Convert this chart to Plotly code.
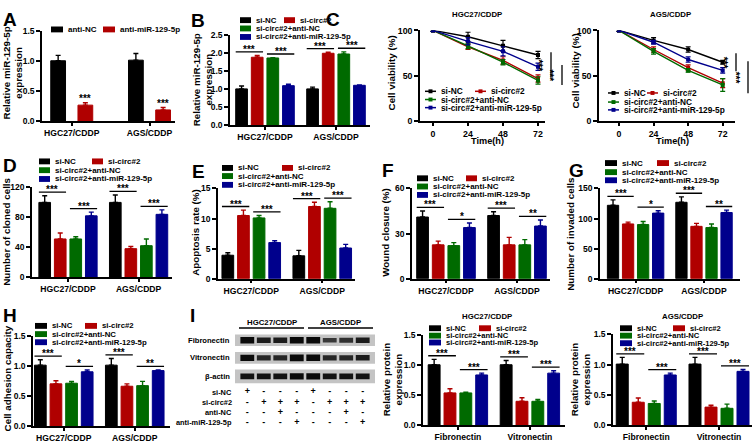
import plotly.graph_objects as go

W, H = 753, 443
FONT = "Liberation Sans, Arial, sans-serif"
COLORS = ["#000000", "#B00000", "#006A00", "#00008C"]

CELLS = ["HGC27/CDDP", "AGS/CDDP"]
PROTEINS = ["Fibronectin", "Vitronectin"]
GROUPS = ["si-NC", "si-circ#2", "si-circ#2+anti-NC", "si-circ#2+anti-miR-129-5p"]

# ---------------------------------------------------------------- data
# rows = series, columns = the two x groups
a_groups = ["anti-NC", "anti-miR-129-5p"]
a_vals = [[1.01, 1.02], [0.27, 0.19]]
a_errs = [[0.09, 0.11], [0.04, 0.04]]

b_vals = [[1.01, 1.01], [1.89, 2.00], [1.87, 1.98], [1.10, 1.11]]
b_errs = [[0.08, 0.05], [0.05, 0.03], [0.01, 0.06], [0.04, 0.01]]

times = [0, 24, 48, 72]
c1_vals = [[100, 93, 83, 73], [100, 82, 67, 47], [100, 83, 65, 45], [100, 88, 77, 60]]
c1_errs = [[1, 5, 6, 4], [1, 3, 4, 4], [1, 3, 3, 4], [1, 4, 5, 4]]
c2_vals = [[100, 89, 79, 65], [100, 79, 59, 42], [100, 77, 56, 40], [100, 87, 68, 56]]
c2_errs = [[1, 3, 3, 2], [1, 3, 3, 5], [1, 3, 2, 7], [1, 2, 3, 3]]
c1_sig = [(76, 48), (62, 40)]
c2_sig = [(75, 55), (66, 31)]

d_vals = [[100, 100], [51, 38], [51, 42], [82, 84]]
d_errs = [[9, 10], [8, 3], [3, 9], [5, 6]]

e_vals = [[3.9, 3.8], [10.5, 12.0], [10.1, 11.7], [6.0, 5.1]]
e_errs = [[0.4, 0.9], [0.9, 0.7], [0.4, 1.1], [0.3, 0.6]]

f_vals = [[41, 42], [22.5, 22.5], [22, 22.5], [34, 35]]
f_errs = [[4, 2.5], [2.5, 5], [2, 3.5], [3, 4]]

g_vals = [[122, 127], [91, 87], [90, 85], [109, 110]]
g_errs = [[9, 9], [3, 5], [5, 6], [4, 4]]

h_vals = [[1.01, 1.01], [0.70, 0.66], [0.71, 0.67], [0.90, 0.92]]
h_errs = [[0.09, 0.11], [0.05, 0.04], [0.03, 0.07], [0.03, 0.01]]

i1_vals = [[1.01, 1.01], [0.54, 0.40], [0.54, 0.40], [0.84, 0.87]]
i1_errs = [[0.09, 0.07], [0.07, 0.06], [0.01, 0.03], [0.03, 0.04]]
i2_vals = [[1.01, 1.01], [0.38, 0.30], [0.36, 0.28], [0.83, 0.89]]
i2_errs = [[0.11, 0.11], [0.07, 0.03], [0.04, 0.07], [0.03, 0.03]]

blot_rows = ["Fibronectin", "Vitronectin", "β-actin"]
fib_int = [0.95, 0.8, 0.8, 0.95, 0.95, 0.65, 0.7, 0.8]
vit_int = [0.9, 0.75, 0.75, 1.0, 0.95, 0.75, 0.75, 0.8]
act_int = [0.85, 0.85, 0.85, 0.9, 0.9, 0.85, 0.85, 0.85]
sign_rows = ["si-NC", "si-circ#2", "anti-NC", "anti-miR-129-5p"]
si_nc = ["+", "-", "-", "-", "+", "-", "-", "-"]
si_circ = ["-", "+", "+", "+", "-", "+", "+", "+"]
anti_nc = ["-", "-", "+", "-", "-", "-", "+", "-"]
anti_mir = ["-", "-", "-", "+", "-", "-", "-", "+"]

# ---------------------------------------------------------------- sizes
TICK = 8.5      # numeric tick labels
CAT = 8.6       # category tick labels
LEG = 8.0       # legend text
TITLE = 9.8     # axis titles
STAR = 10

# ---------------------------------------------------------------- helpers
fig = go.Figure()
axes, shapes, anns = {}, [], []


def fx(x):
    return x / W


def fy(y):
    return 1 - y / H


def bfont(size):
    return dict(family=FONT, size=size, color="black", weight="bold")


def axis(**kw):
    base = dict(showline=True, linecolor="black", linewidth=1.5, ticks="outside",
                tickcolor="black", tickwidth=1.5, ticklen=4, showgrid=False,
                zeroline=False, tickfont=bfont(TICK), fixedrange=True)
    base.update(kw)
    return base


def text(s, x, y, size=10, xa="center", ya="middle", angle=0):
    anns.append(dict(text=s, x=fx(x), y=fy(y), xref="paper", yref="paper",
                     showarrow=False, xanchor=xa, yanchor=ya, textangle=angle,
                     font=bfont(size)))


def legend(labels, colors, spots, sw=11, sh=6, size=LEG, line=False):
    for lab, c, (x, y) in zip(labels, colors, spots):
        if line:
            shapes.append(dict(type="line", xref="paper", yref="paper", x0=fx(x), x1=fx(x + sw),
                               y0=fy(y), y1=fy(y), line=dict(color=c, width=1.5)))
            m = x + sw / 2
            shapes.append(dict(type="rect", xref="paper", yref="paper", x0=fx(m - 2), x1=fx(m + 2),
                               y0=fy(y + 2), y1=fy(y - 2), fillcolor=c, line=dict(width=0)))
        else:
            shapes.append(dict(type="rect", xref="paper", yref="paper", x0=fx(x), x1=fx(x + sw),
                               y0=fy(y + sh / 2), y1=fy(y - sh / 2), fillcolor=c,
                               line=dict(width=0)))
        text(lab, x + sw + 3, y, size=size, xa="left")


def four_spots(xa, xb, ys):
    return [(xa, ys[0]), (xb, ys[0]), (xa, ys[1]), (xa, ys[2])]


def bar_panel(k, box, centers, ymax, dtick, fmt, cats, vals, errs, offsets, width,
              sigs, pad=0.04):
    x0, x1, yt, yb = box
    c0, c1 = centers
    d = c1 - c0
    xa, ya = f"x{k}", f"y{k}"
    for s, (v, e) in enumerate(zip(vals, errs)):
        fig.add_trace(go.Bar(
            x=[g + offsets[s] for g in range(len(v))], y=v, width=width,
            marker=dict(color=COLORS[s], line=dict(color=COLORS[s], width=1)),
            error_y=dict(type="data", array=e, arrayminus=[0] * len(e), symmetric=False,
                         color=COLORS[s], thickness=1.4, width=2.5),
            xaxis=xa, yaxis=ya, showlegend=False, hoverinfo="skip"))
    axes[f"xaxis{k}"] = axis(domain=[fx(x0), fx(x1)], range=[(x0 - c0) / d, 1 + (x1 - c1) / d],
                             anchor=ya, tickvals=[0, 1], ticktext=cats, ticklen=3,
                             tickfont=bfont(CAT))
    axes[f"yaxis{k}"] = axis(domain=[fy(yb), fy(yt)], range=[0, ymax], dtick=dtick,
                             tickformat=fmt, anchor=xa)
    for g, i, j, lab in sigs:
        top = max(vals[i][g] + errs[i][g], vals[j][g] + errs[j][g]) + pad * ymax
        if i == j:
            anns.append(dict(text=lab, x=g + offsets[i], y=top, xref=xa, yref=ya,
                             showarrow=False, yanchor="bottom", yshift=-5, font=bfont(STAR)))
            continue
        s0 = g + offsets[i] - width / 2
        s1 = g + offsets[j] + width / 2
        shapes.append(dict(type="line", xref=xa, yref=ya, x0=s0, x1=s1, y0=top, y1=top,
                           line=dict(color="black", width=1.3)))
        anns.append(dict(text=lab, x=(s0 + s1) / 2, y=top, xref=xa, yref=ya, showarrow=False,
                         yanchor="bottom", yshift=-5, font=bfont(STAR)))


def line_panel(k, box, x_zero, x_72, vals, errs, sig, sig_x, title, title_x):
    x0, x1, yt, yb = box
    ppu = (x_72 - x_zero) / 72
    xa, ya = f"x{k}", f"y{k}"
    for s, (v, e) in enumerate(zip(vals, errs)):
        fig.add_trace(go.Scatter(
            x=times, y=v, mode="lines+markers",
            line=dict(color=COLORS[s], width=1.4),
            marker=dict(symbol="square", size=4, color=COLORS[s]),
            error_y=dict(type="data", array=e, color=COLORS[s], thickness=1.2, width=2.5),
            xaxis=xa, yaxis=ya, showlegend=False, hoverinfo="skip"))
    axes[f"xaxis{k}"] = axis(domain=[fx(x0), fx(x1)],
                             range=[(x0 - x_zero) / ppu, (x1 - x_zero) / ppu],
                             anchor=ya, tickvals=times, ticklen=3, tickfont=bfont(8.8))
    axes[f"yaxis{k}"] = axis(domain=[fy(yb), fy(yt)], range=[0, 100], dtick=50, anchor=xa,
                             tickfont=bfont(8.8))
    for (v0, v1), px in zip(sig, sig_x):
        shapes.append(dict(type="line", xref="paper", yref=ya, x0=fx(px), x1=fx(px),
                           y0=v0, y1=v1, line=dict(color="black", width=1.3)))
        anns.append(dict(text="***", x=fx(px - 5), y=(v0 + v1) / 2, xref="paper", yref=ya,
                         showarrow=False, textangle=90, font=bfont(STAR)))
    text(title, title_x, 10, size=7.8)
    text("Time(h)", (x0 + x1) / 2 + 5, 139.5, size=9.2)


OFF4 = [-0.33, -0.11, 0.11, 0.33]
W4 = 0.165
SIG_ALL = [(0, 0, 1, "***"), (0, 2, 3, "***"), (1, 0, 1, "***"), (1, 2, 3, "***")]
SIG_MIX = [(0, 0, 1, "***"), (0, 2, 3, "*"), (1, 0, 1, "***"), (1, 2, 3, "**")]
YT = "Relative miR-129-5p<br>expression"

# ---------------------------------------------------------------- A
bar_panel(1, (42, 175, 27, 119), (71.75, 149.5), 1.5, 0.5, ".1f", CELLS, a_vals, a_errs,
          [-0.175, 0.175], 0.19, [(0, 1, 1, "***"), (1, 1, 1, "***")], pad=0.02)
legend(a_groups, COLORS[:2], [(51, 25), (103, 25)], sw=12)
text(YT, 13, 70, size=TITLE, angle=-90)

# ---------------------------------------------------------------- B
bar_panel(2, (230, 370, 31, 123), (265, 336), 2.5, 0.5, ".1f", CELLS, b_vals, b_errs,
          OFF4, W4, SIG_ALL, pad=0.04)
legend(GROUPS, COLORS, four_spots(240, 284, [15.5, 24, 32.7]), size=7.8)
text(YT, 203, 77, size=TITLE, angle=-90)

# ---------------------------------------------------------------- C
line_panel(3, (420, 545, 26, 119), 433, 538, c1_vals, c1_errs, c1_sig, [551, 562],
           "HGC27/CDDP", 477)
legend(GROUPS, COLORS, four_spots(425, 475, [88.3, 96.7, 105]), sw=11, size=8.3, line=True)
text("Cell viability (%)", 391, 70, size=TITLE, angle=-90)

line_panel(4, (599, 735, 26, 119), 619, 722.7, c2_vals, c2_errs, c2_sig, [736, 748],
           "AGS/CDDP", 670)
legend(GROUPS, COLORS, four_spots(608, 647, [90, 99.3, 107.3]), sw=11, size=8.3, line=True)
text("Cell viability (%)", 575, 68, size=TITLE, angle=-90)

# ---------------------------------------------------------------- D-G
bar_panel(5, (32, 172, 186.7, 278.3), (68, 138.6), 120, 40, "d", CELLS, d_vals, d_errs,
          OFF4, W4, SIG_ALL)
legend(GROUPS, COLORS, four_spots(39, 92, [160, 169, 178]))
text("Number of cloned cells", 7, 232, size=TITLE, angle=-90)

bar_panel(6, (218, 355, 187.7, 280), (251.25, 322.25), 15, 5, "d", CELLS, e_vals, e_errs,
          OFF4, W4, SIG_ALL)
legend(GROUPS, COLORS, four_spots(222, 282, [166.7, 175, 184]))
text("Apoptosis rate (%)", 196, 233, size=TITLE, angle=-90)

bar_panel(7, (412, 550, 187.7, 280), (446, 517), 60, 30, "d", CELLS, f_vals, f_errs,
          OFF4, W4, SIG_MIX)
legend(GROUPS, COLORS, four_spots(417, 466, [177.3, 185.7, 194.3]))
text("Wound closure (%)", 386, 233, size=TITLE, angle=-90)

bar_panel(8, (600, 740, 187.7, 280), (635.6, 704), 150, 50, "d", CELLS, g_vals, g_errs,
          OFF4, W4, SIG_MIX)
legend(GROUPS, COLORS, four_spots(605, 657, [161.7, 171, 179.3]), sw=12)
text("Number of invaded cells", 571, 234, size=TITLE, angle=-90)

# ---------------------------------------------------------------- H
bar_panel(9, (33, 170, 338.3, 430.7), (63.75, 134.75), 1.5, 0.5, ".1f", CELLS, h_vals, h_errs,
          OFF4, W4, SIG_MIX)
legend(GROUPS, COLORS, four_spots(35, 85, [328.3, 336.7, 345]), sw=12, size=7.8)
text("Cell adhesion capacity", 7, 382, size=TITLE, angle=-90)

# ---------------------------------------------------------------- I blot
lanes = list(range(8))
bx0, bx1 = 235, 375
lane0, lane7 = 247.3, 362.7
lp = (lane7 - lane0) / 7
strips = [(337, 349), (355, 367), (373, 387)]
sign_y = [396, 406.7, 416.7, 427.3]
axes["xaxis10"] = dict(domain=[fx(bx0), fx(bx1)], range=[(bx0 - lane0) / lp, 7 + (bx1 - lane7) / lp],
                       visible=False, fixedrange=True, anchor="y10")
axes["yaxis10"] = dict(domain=[0, fy(300)], range=[443, 300], visible=False, fixedrange=True,
                       anchor="x10")
for (t, b), name, ints in zip(strips, blot_rows, [fib_int, vit_int, act_int]):
    shapes.append(dict(type="rect", xref="paper", yref="paper", x0=fx(bx0), x1=fx(bx1),
                       y0=fy(b), y1=fy(t), fillcolor="#C4C4C4", line=dict(width=0), layer="below"))
    mid = (t + b) / 2
    fig.add_trace(go.Bar(
        x=lanes, y=[7 * v for v in ints], base=[mid - 3.5 * v for v in ints], width=0.84,
        marker=dict(color=[f"rgba(10,10,10,{min(1, v + 0.1):.2f})" for v in ints],
                    line=dict(width=0)),
        xaxis="x10", yaxis="y10", showlegend=False, hoverinfo="skip"))
    text(name, bx0 - 3, mid, size=7.6, xa="right")
for name, signs, y in zip(sign_rows, [si_nc, si_circ, anti_nc, anti_mir], sign_y):
    fig.add_trace(go.Scatter(x=lanes, y=[y] * 8, mode="text", text=signs,
                             textfont=bfont(9), xaxis="x10", yaxis="y10",
                             showlegend=False, hoverinfo="skip"))
    text(name, 234, y, size=7.4, xa="right")
for lab, (u0, u1) in zip(CELLS, [(239, 304), (308, 373)]):
    shapes.append(dict(type="line", xref="paper", yref="paper", x0=fx(u0), x1=fx(u1),
                       y0=fy(330.5), y1=fy(330.5), line=dict(color="black", width=1.5)))
    text(lab, (u0 + u1) / 2, 324.5, size=7.8)

# ---------------------------------------------------------------- I charts
bar_panel(11, (423, 565, 338, 430), (457.9, 529.9), 1.5, 0.5, ".1f", PROTEINS, i1_vals,
          i1_errs, OFF4, W4, SIG_ALL)
legend(GROUPS, COLORS, four_spots(429, 479, [330.7, 338.3, 345.3]), sw=12, size=7.6)
text("HGC27/CDDP", 487, 319, size=7.8)
text("Relative protein<br>expression", 393, 383, size=TITLE, angle=-90)

bar_panel(12, (613, 752, 337, 430), (646.25, 719), 1.5, 0.5, ".1f", PROTEINS, i2_vals,
          i2_errs, OFF4, W4, SIG_ALL)
legend(GROUPS, COLORS, four_spots(620, 673, [330.7, 338.3, 346]), sw=12, size=7.6)
text("AGS/CDDP", 682, 319, size=7.8)
text("Relative protein<br>expression", 581, 383, size=TITLE, angle=-90)

# ---------------------------------------------------------------- panel letters
for letter, x, y in [("A", 1, 2), ("B", 189, 3), ("C", 324, 2), ("D", 1, 151),
                     ("E", 190, 158), ("F", 380, 157), ("G", 567, 157),
                     ("H", 1, 305), ("I", 188, 305)]:
    text(letter, x, y, size=19, xa="left", ya="top")

fig.update_layout(
    width=W, height=H, margin=dict(l=0, r=0, t=0, b=0),
    paper_bgcolor="white", plot_bgcolor="white",
    barmode="overlay", showlegend=False,
    font=dict(family=FONT, size=10, color="black", weight="bold"),
    shapes=shapes, annotations=anns, **axes,
)
fig.write_html("out.html", config={"displayModeBar": False},
               post_script="document.body.style.margin='0';")
